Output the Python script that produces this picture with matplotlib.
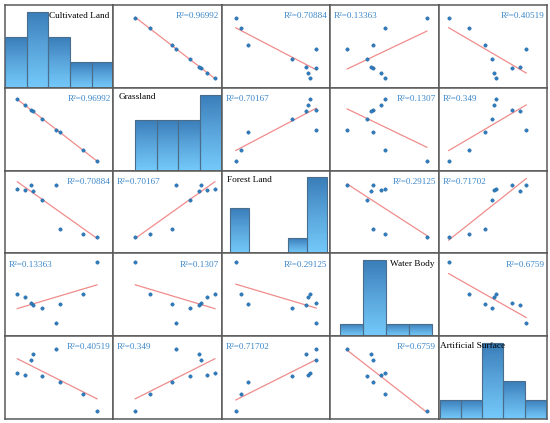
import numpy as np
import matplotlib
matplotlib.use("Agg")
import matplotlib.pyplot as plt
from matplotlib.colors import LinearSegmentedColormap

# ---------------- data ----------------
names = ["Cultivated Land", "Grassland", "Forest Land", "Water Body", "Artificial Surface"]

cultivated = [11.4, 18.2, 23.7, 25.5, 34.5, 47.1, 51.1, 71.7, 84.9]
grassland = [93.6, 86.8, 80.7, 79.1, 70.6, 57.7, 54.3, 33.7, 20.2]
forest = [81.2, 79.1, 87.1, 77.8, 64.9, 87.1, 24.0, 17.8, 12.9]
water = [50.8, 46.8, 39.7, 37.8, 33.8, 15.7, 39.1, 50.8, 89.2]
artificial = [52.6, 50.8, 68.1, 74.9, 48.9, 80.8, 42.4, 28.5, 9.3]

cultivated_counts = [2, 3, 2, 1, 1]
grassland_counts = [0, 2, 2, 2, 3]
forest_counts = [3, 0, 0, 1, 5]
water_counts = [1, 6, 1, 1]
artificial_counts = [1, 1, 4, 2, 1]

# R² between pairs (i, j)
r2_labels = {
    (0, 1): "0.96992", (0, 2): "0.70884", (0, 3): "0.13363", (0, 4): "0.40519",
    (1, 2): "0.70167", (1, 3): "0.1307", (1, 4): "0.349",
    (2, 3): "0.29125", (2, 4): "0.71702",
    (3, 4): "0.6759",
}

# ---------------- style ----------------
data = [cultivated, grassland, forest, water, artificial]
counts = [cultivated_counts, grassland_counts, forest_counts, water_counts, artificial_counts]

x_lims = [(0, 100)] * 5
y_lims = [(0, 100), (9.1, 107.1), (-9.7, 106.8), (0, 100), (0, 95.1)]
hist_xlims = [(0, 5), (0, 5), (-0.4, 5.17), (-0.41, 4.3), (-0.05, 5.05)]

r2_side = {
    (0, 1): "r", (0, 2): "r", (0, 3): "l", (0, 4): "r",
    (1, 0): "r", (1, 2): "l", (1, 3): "r", (1, 4): "l",
    (2, 0): "r", (2, 1): "l", (2, 3): "r", (2, 4): "l",
    (3, 0): "l", (3, 1): "r", (3, 2): "r", (3, 4): "r",
    (4, 0): "r", (4, 1): "l", (4, 2): "l", (4, 3): "r",
}
label_side = ["r", "l", "l", "r", "l"]

serif = ["Liberation Serif", "DejaVu Serif"]
r2_color = "#3a86c8"
dot_color = "#2c7dc0"
line_color = "#f08c8c"
frame_color = "#5a5a5a"
grad = LinearSegmentedColormap.from_list("g", ["#74cafa", "#5aa6dc", "#3a7db8"])
N_SLICES = 40

fig = plt.figure(figsize=(5.5, 4.23), dpi=100)
axes = fig.subplots(5, 5, gridspec_kw=dict(wspace=0, hspace=0,
                                            left=5 / 550, right=547 / 550,
                                            top=1 - 5 / 423, bottom=1 - 419 / 423))

n = len(names)
for i in range(n):
    for j in range(n):
        ax = axes[i, j]
        ax.set_xticks([])
        ax.set_yticks([])
        for s in ax.spines.values():
            s.set_color(frame_color)
            s.set_linewidth(1.1)
        if i == j:
            c = np.array(counts[i], dtype=float)
            top = c.max() * 1.09
            pos = np.arange(len(c))
            fr = np.linspace(0, 1, N_SLICES + 1)
            for k in range(N_SLICES):
                col = grad((fr[k] + fr[k + 1]) / 2)
                ax.bar(pos, c * (fr[k + 1] - fr[k]) * 1.02, bottom=c * fr[k], width=1.0,
                       align="edge", color=col, linewidth=0, zorder=2)
            ax.bar(pos, c, width=1.0, align="edge", facecolor="none",
                   edgecolor="#4a6d8c", linewidth=0.8, zorder=3)
            ax.set_xlim(*hist_xlims[i])
            ax.set_ylim(0, top)
            if label_side[i] == "r":
                ax.text(0.965, 0.87, names[i], transform=ax.transAxes, ha="right", va="center",
                        fontsize=6.7, family=serif, color="black", zorder=5)
            else:
                ax.text(0.045 if i != 4 else 0.015, 0.885, names[i], transform=ax.transAxes,
                        ha="left", va="center", fontsize=6.7, family=serif, color="black", zorder=5)
        else:
            x = np.array(data[j])
            y = np.array(data[i])
            k1, b0 = np.polyfit(x, y, 1)
            xs = np.array([x.min(), x.max()])
            ax.plot(xs, k1 * xs + b0, color=line_color, lw=0.9, zorder=2)
            ax.scatter(x, y, s=6, color=dot_color, edgecolors="#1d5c94", linewidths=0.3, zorder=3)
            ax.set_xlim(*x_lims[j])
            ax.set_ylim(*y_lims[i])
            key = (min(i, j), max(i, j))
            txt = "R\u00b2=" + r2_labels[key]
            if r2_side[(i, j)] == "r":
                ax.text(0.975, 0.865, txt, transform=ax.transAxes, ha="right", va="center",
                        fontsize=6.6, family=serif, color=r2_color)
            else:
                ax.text(0.035, 0.865, txt, transform=ax.transAxes, ha="left", va="center",
                        fontsize=6.6, family=serif, color=r2_color)

fig.savefig("out.png", dpi=100)
